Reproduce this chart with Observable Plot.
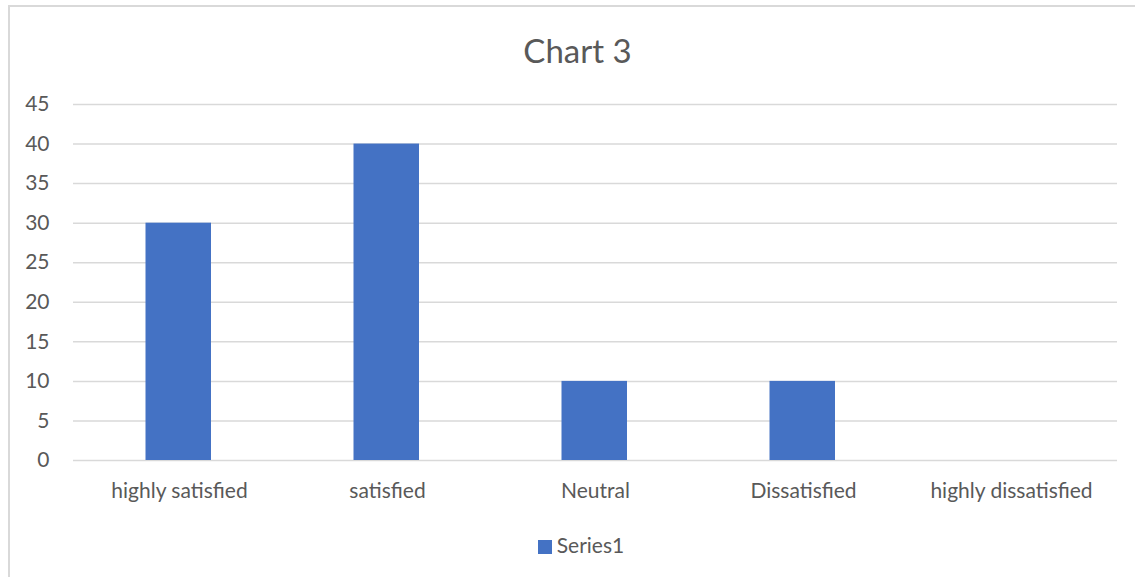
<!DOCTYPE html>
<html>
<head>
<meta charset="utf-8">
<script src="https://cdn.jsdelivr.net/npm/d3@7"></script>
<script src="https://cdn.jsdelivr.net/npm/@observablehq/plot@0.6"></script>
<style>
  html, body { margin: 0; padding: 0; background: #fff; }
  #wrap { position: relative; width: 1135px; height: 577px; overflow: hidden; font-family: Lato, "Open Sans", sans-serif; color: #595959; }
  #border { position: absolute; left: 8px; top: 5px; width: 1200px; height: 700px; border: 2px solid #d9d9d9; box-sizing: border-box; }
  #title { position: absolute; left: 0; width: 1155px; top: 30px; text-align: center; font-size: 33px; color: #595959; }
  #chart { position: absolute; left: 0; top: 0; }
  #legend { position: absolute; top: 532px; left: 0; width: 1162px; text-align: center; font-size: 21px; color: #595959; }
  #legend .sw { display: inline-block; width: 14px; height: 14px; background: #4472c4; margin-right: 5px; vertical-align: -1px; }
</style>
</head>
<body>
<div id="wrap">
  <div id="border"></div>
  <div id="title">Chart 3</div>
  <div id="chart"></div>
  <div id="legend"><span class="sw"></span>Series1</div>
</div>
<script>
const categories = ["highly satisfied", "satisfied", "Neutral", "Dissatisfied", "highly dissatisfied"];
const values = [30, 40, 10, 10, 0];
const yTicks = [0, 5, 10, 15, 20, 25, 30, 35, 40, 45];
const seriesName = "Series1";

const data = categories.map((c, i) => ({category: c, value: values[i], series: seriesName}));

const chart = Plot.plot({
  width: 1135,
  height: 520,
  marginTop: 104,
  marginBottom: 60,
  marginLeft: 73,
  marginRight: 18,
  style: {fontFamily: "Lato, 'Open Sans', sans-serif", fontSize: "21px", color: "#595959", background: "transparent"},
  x: {domain: categories, padding: 0, label: null},
  y: {domain: [0, 45], label: null},
  marks: [
    Plot.ruleY(yTicks, {stroke: "#d9d9d9", strokeWidth: 1.5}),
    Plot.barY(data, {x: "category", y: "value", fill: "#4472c4", insetLeft: 70.5, insetRight: 72}),
    Plot.axisY(yTicks, {tickSize: 0, tickPadding: 24, fill: "#595959", fontSize: 21, label: null}),
    Plot.axisX({tickSize: 0, tickPadding: 23, fill: "#595959", fontSize: 21, label: null})
  ]
});
document.getElementById("chart").appendChild(chart);
</script>
</body>
</html>
